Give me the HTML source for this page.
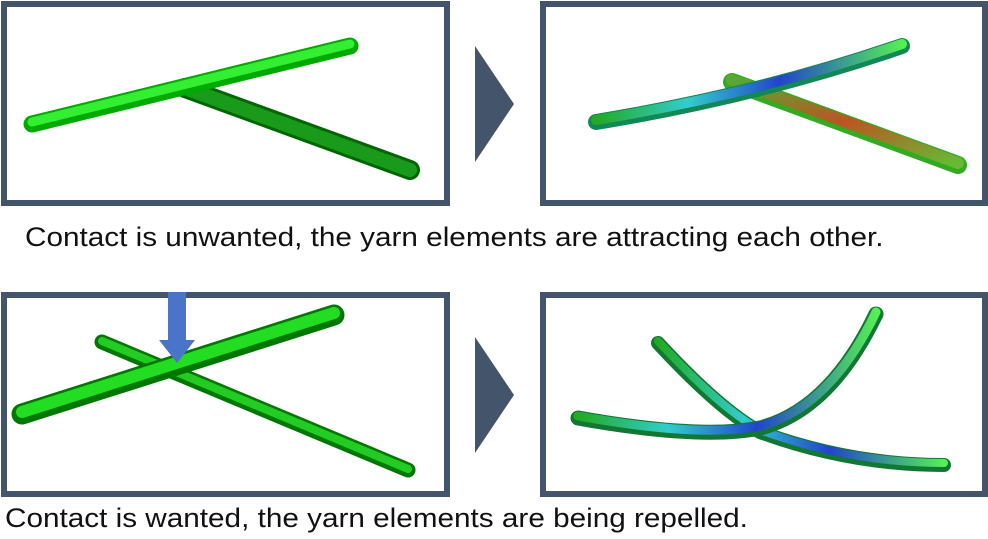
<!DOCTYPE html>
<html><head><style>
body{margin:0;background:#fff;width:988px;height:539px;overflow:hidden;font-family:"Liberation Sans",Arial,sans-serif;}
.t{position:absolute;font-size:27px;color:#111;white-space:nowrap;transform:scaleX(1.1);transform-origin:0 0;}
</style></head><body>
<svg width="988" height="539" style="position:absolute;left:0;top:0">
<defs>
<linearGradient id="cb" x1="0" y1="0" x2="1" y2="0"><stop offset="0" stop-color="#2a2"/><stop offset=".3" stop-color="#3cc"/><stop offset=".6" stop-color="#24c"/><stop offset="1" stop-color="#5e5"/></linearGradient>
<linearGradient id="rd" x1="0" y1="0" x2="1" y2="1"><stop offset="0" stop-color="#5a3"/><stop offset=".5" stop-color="#b52"/><stop offset="1" stop-color="#6b3"/></linearGradient>
</defs>
<g fill="none" stroke="#44546a" stroke-width="6">
<rect x="4" y="4" width="443" height="199"/>
<rect x="543" y="4" width="442" height="199"/>
<rect x="4" y="295" width="443" height="199"/>
<rect x="543" y="295" width="442" height="199"/>
</g>
<polygon points="475,46 514,104 475,162" fill="#44546a"/>
<polygon points="475,337 514,395 475,453" fill="#44546a"/>
<g stroke-linecap="round">
<line x1="185" y1="88" x2="410" y2="170" stroke="#060" stroke-width="20"/>
<line x1="185" y1="88" x2="410" y2="170" stroke="#1a9a1a" stroke-width="14"/>
<line x1="32" y1="124" x2="350" y2="46" stroke="#0a0" stroke-width="17"/>
<line x1="32" y1="122" x2="350" y2="44" stroke="#3e3" stroke-width="9"/>
</g>
<g stroke-linecap="round" fill="none">
<line x1="732" y1="82" x2="958" y2="165" stroke="#3a2" stroke-width="18"/>
<line x1="732" y1="80" x2="958" y2="163" stroke="url(#rd)" stroke-width="12"/>
<path d="M596,122 Q760,95 902,46" stroke="#185" stroke-width="16"/>
<path d="M596,120 Q760,93 902,44" stroke="url(#cb)" stroke-width="10"/>
</g>
<g stroke-linecap="round">
<line x1="102" y1="342" x2="408" y2="470" stroke="#070" stroke-width="15"/>
<line x1="102" y1="341" x2="408" y2="469" stroke="#2c2" stroke-width="8"/>
<line x1="22" y1="414" x2="334" y2="315" stroke="#070" stroke-width="21"/>
<line x1="22" y1="412" x2="334" y2="313" stroke="#2d2" stroke-width="12"/>
</g>
<polygon points="168,292 186,292 186,340 195,340 177,363 159,340 168,340" fill="#4a74c8"/>
<g stroke-linecap="round" fill="none">
<path d="M658,343 Q720,410 760,432 Q850,465 944,465" stroke="#173" stroke-width="14"/>
<path d="M658,341 Q720,408 760,430 Q850,463 944,463" stroke="url(#cb)" stroke-width="8"/>
<path d="M578,418 Q700,440 760,428 Q830,410 876,314" stroke="#173" stroke-width="15"/>
<path d="M578,416 Q700,438 760,426 Q830,408 876,312" stroke="url(#cb)" stroke-width="9"/>
</g>
</svg>
<div class="t" style="left:25px;top:222px">Contact is unwanted, the yarn elements are attracting each other.</div>
<div class="t" style="left:5px;top:503px">Contact is wanted, the yarn elements are being repelled.</div>
</body></html>
